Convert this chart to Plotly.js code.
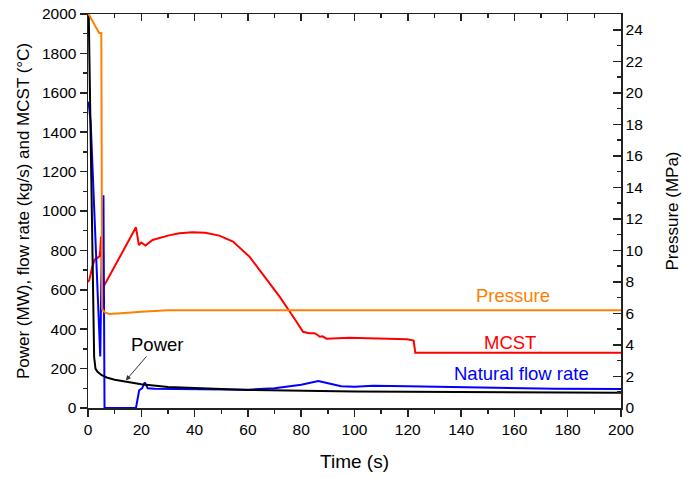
<!DOCTYPE html>
<html>
<head>
<meta charset="utf-8">
<script src="https://cdn.plot.ly/plotly-3.0.1.min.js"></script>
<style>html,body{margin:0;padding:0;background:#fff;}#chart{width:700px;height:477px;}</style>
</head>
<body>
<div id="chart"></div>
<script>
// Power (MW)
const powerTime = [0, 0.3, 0.5, 0.7, 1.0, 1.3, 1.6, 1.9, 2.3, 2.8, 3.5, 5, 7, 10, 14, 20, 30, 40, 50, 60, 80, 100, 120, 150, 200];
const powerVal  = [2000, 1990, 1800, 1600, 1300, 1000, 740, 480, 260, 200, 185, 168, 155, 143, 133, 120, 107, 100, 96, 92, 87, 84, 82, 80, 77];

// Main coolant system temperature MCST (°C)
const mcstTime = [0, 0.5, 1.5, 2.4, 4.3, 4.6, 4.9, 5.4, 18.0, 19.1, 20.0, 21.6, 24.2, 30, 34.3, 39.3, 44, 49.3, 54.4, 60.6, 64.4, 71.9, 77.0, 80.7, 83, 85, 86, 87, 88, 89.5, 98, 110, 119.7, 122.2, 122.8, 150, 200];
const mcstVal  = [640, 650, 710, 752, 770, 800, 870, 605, 917, 827, 840, 825, 853, 875, 887, 892, 890, 875, 845, 768, 700, 565, 463, 387, 380, 380, 372, 362, 364, 352, 357, 354, 349, 342, 281, 281, 281];

// Natural flow rate (kg/s)
const flowTime = [0, 0.4, 1, 2, 3, 4, 4.3, 4.6, 5.0, 5.4, 5.8, 6.2, 18.0, 19.2, 20.3, 21.3, 22.4, 25, 30, 40, 50, 60, 70, 75, 80, 86.4, 90, 95, 100, 107, 120, 148, 175, 200];
const flowVal  = [1555, 1530, 1450, 1130, 800, 470, 360, 262, 650, 900, 1080, 0, 0, 90, 100, 130, 100, 98, 97, 95, 94, 93, 100, 108, 118, 137, 127, 110, 108, 113, 110, 102, 98, 96];

// Pressure (MPa)
const presTime = [0, 0.6, 1.5, 2.5, 3.7, 4.2, 5.0, 5.1, 5.3, 5.6, 6.5, 8, 10, 15, 20, 25, 30, 50, 100, 150, 200];
const presVal  = [25.0, 24.9, 24.6, 24.3, 23.9, 23.8, 23.8, 15.0, 6.3, 6.2, 6.05, 5.97, 5.98, 6.05, 6.1, 6.15, 6.2, 6.2, 6.2, 6.2, 6.2];

// Labels
const labelPower = "Power";
const labelPressure = "Pressure";
const labelMcst = "MCST";
const labelFlow = "Natural flow rate";

const FONT = "Arial, 'Liberation Sans', Helvetica, sans-serif";

const traces = [
  {x: mcstTime, y: mcstVal, type: 'scatter', mode: 'lines', name: labelMcst,
   line: {color: '#ff0000', width: 2}, xaxis: 'x', yaxis: 'y'},
  {x: flowTime, y: flowVal, type: 'scatter', mode: 'lines', name: labelFlow,
   line: {color: '#0000ff', width: 2}, xaxis: 'x', yaxis: 'y'},
  {x: presTime, y: presVal, type: 'scatter', mode: 'lines', name: labelPressure,
   line: {color: '#ff8000', width: 2}, xaxis: 'x2', yaxis: 'y2'},
  {x: powerTime, y: powerVal, type: 'scatter', mode: 'lines', name: labelPower,
   line: {color: '#000000', width: 2}, xaxis: 'x', yaxis: 'y'}
];

const tickFont = {family: FONT, size: 15.5, color: '#000'};
const titleFont = {family: FONT, size: 17, color: '#000'};

const layout = {
  width: 700, height: 477,
  margin: {l: 88, r: 79, t: 14, b: 69},
  paper_bgcolor: '#fff', plot_bgcolor: '#fff',
  showlegend: false,
  font: {family: FONT, color: '#000'},
  xaxis: {
    range: [0, 200], dtick: 20, tick0: 0,
    ticks: 'outside', ticklen: 7, tickwidth: 1.5, tickcolor: '#222',
    minor: {dtick: 10, ticks: 'outside', ticklen: 4, tickwidth: 1.5, tickcolor: '#222'},
    showline: true, linecolor: '#222', linewidth: 1.5, mirror: false,
    showgrid: false, zeroline: false,
    tickfont: tickFont,
    title: {text: 'Time (s)', font: {family: FONT, size: 19, color: '#000'}, standoff: 17},
    anchor: 'y'
  },
  xaxis2: {
    range: [0, 200], dtick: 20, tick0: 0, overlaying: 'x', side: 'top', anchor: 'y2',
    ticks: 'inside', ticklen: 7, tickwidth: 1.5, tickcolor: '#222',
    minor: {dtick: 10, ticks: 'inside', ticklen: 4, tickwidth: 1.5, tickcolor: '#222'},
    showline: true, linecolor: '#222', linewidth: 1.5,
    showticklabels: false, showgrid: false, zeroline: false
  },
  yaxis: {
    range: [0, 2000], dtick: 200, tick0: 0,
    ticks: 'outside', ticklen: 7, tickwidth: 1.5, tickcolor: '#222',
    minor: {dtick: 100, ticks: 'outside', ticklen: 4, tickwidth: 1.5, tickcolor: '#222'},
    showline: true, linecolor: '#222', linewidth: 1.5,
    showgrid: false, zeroline: false,
    tickfont: tickFont,
    title: {text: 'Power (MW), flow rate (kg/s) and MCST (°C)', font: titleFont, standoff: 8},
    anchor: 'x'
  },
  yaxis2: {
    range: [0, 25], dtick: 2, tick0: 0, overlaying: 'y', side: 'right', anchor: 'x2',
    ticks: 'inside', ticklen: 8, tickwidth: 1.5, tickcolor: '#222',
    minor: {dtick: 1, ticks: 'inside', ticklen: 4, tickwidth: 1.5, tickcolor: '#222'},
    showline: true, linecolor: '#222', linewidth: 1.5,
    showgrid: false, zeroline: false,
    tickfont: tickFont,
    title: {text: 'Pressure (MPa)', font: titleFont, standoff: 24}
  },
  annotations: [
    {x: 159.5, y: 570, xref: 'x', yref: 'y', text: labelPressure, showarrow: false,
     font: {family: FONT, size: 18.5, color: '#ff8000'}},
    {x: 158.4, y: 333, xref: 'x', yref: 'y', text: labelMcst, showarrow: false,
     font: {family: FONT, size: 18.5, color: '#ff0000'}},
    {x: 162.8, y: 173, xref: 'x', yref: 'y', text: labelFlow, showarrow: false,
     font: {family: FONT, size: 18.5, color: '#0000ff'}},
    {x: 14.2, y: 140, xref: 'x', yref: 'y', text: labelPower, showarrow: true,
     ax: 31, ay: -36, arrowhead: 2, arrowsize: 1, arrowwidth: 1, arrowcolor: '#333',
     font: {family: FONT, size: 18.5, color: '#000'}}
  ]
};

Plotly.newPlot('chart', traces, layout, {displayModeBar: false, staticPlot: true});
</script>
</body>
</html>
